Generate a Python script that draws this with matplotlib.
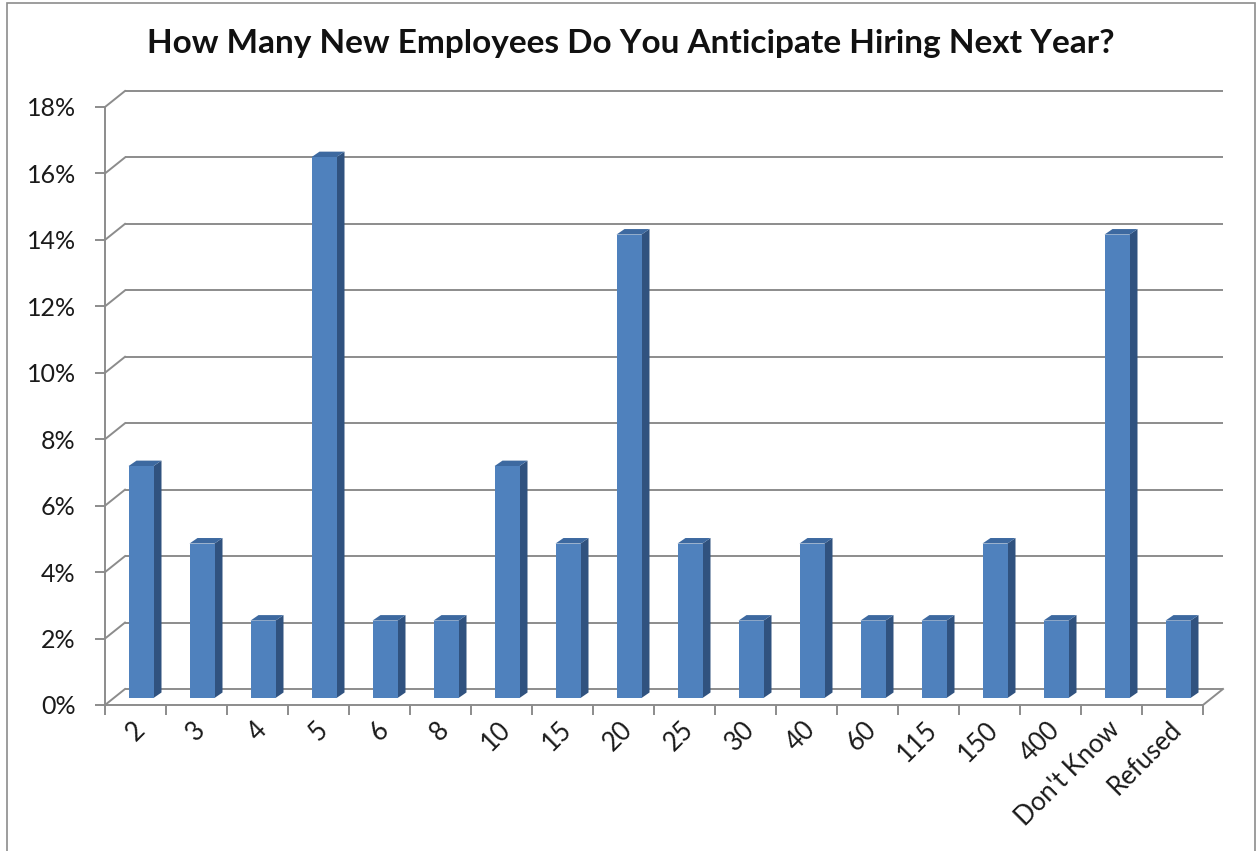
import numpy as np
import matplotlib
matplotlib.use("Agg")
import matplotlib.pyplot as plt
from matplotlib.patches import Polygon, Rectangle
from matplotlib.transforms import ScaledTranslation

categories = ["2", "3", "4", "5", "6", "8", "10", "15", "20", "25", "30",
              "40", "60", "115", "150", "400", "Don't Know", "Refused"]
shares = [6.98, 4.65, 2.33, 16.28, 2.33, 2.33, 6.98, 4.65, 13.95, 4.65,
          2.33, 4.65, 2.33, 2.33, 4.65, 2.33, 13.95, 2.33]
y_ticks = [0, 2, 4, 6, 8, 10, 12, 14, 16, 18]
y_tick_labels = [f"{v}%" for v in y_ticks]
title = "How Many New Employees Do You Anticipate Hiring Next Year?"

FRONT = "#4F81BD"
SIDE = "#30527F"
TOP = "#3D69A0"
GRID = "#8C8C8C"
FONT = "Lato"

W, H = 1257, 851
fig = plt.figure(figsize=(W / 100, H / 100), dpi=100)
fig.patch.set_facecolor("white")

# front plane of the plot, in pixels from the top-left corner
L, R, B, T = 105, 1203, 705, 107
ax = fig.add_axes([L / W, 1 - B / H, (R - L) / W, (B - T) / H])
n = len(categories)
ymax = y_ticks[-1]
ax.set_xlim(0, n)
ax.set_ylim(0, ymax)
ax.set_facecolor("none")
for s in ax.spines.values():
    s.set_visible(False)

sx = n / (R - L)
sy = ymax / (B - T)


def off(px, py):
    return px * sx, py * sy


wall_dx, wall_dy = off(20, 16)      # back wall depth
front_dx, front_dy = off(5.5, 7)    # bar front face placement
depth_dx, depth_dy = off(8, 5.5)    # bar thickness
bar_w = 25 * sx

# back wall gridlines and their links to the front axis
for v in y_ticks:
    ax.plot([wall_dx, n + wall_dx], [v + wall_dy] * 2, color=GRID, lw=1.4,
            clip_on=False, zorder=1, solid_capstyle="butt")
    ax.plot([0, wall_dx], [v, v + wall_dy], color=GRID, lw=1.4,
            clip_on=False, zorder=1)
ax.plot([0, 0], [0, ymax], color=GRID, lw=1.4, clip_on=False, zorder=1)
ax.plot([0, n], [0, 0], color=GRID, lw=1.4, clip_on=False, zorder=1)
ax.plot([n, n + wall_dx], [0, wall_dy], color=GRID, lw=1.4,
        clip_on=False, zorder=1)

# columns
x = np.arange(n) + 0.5
bars = ax.bar(x + front_dx, shares, width=bar_w, bottom=front_dy,
              color=FRONT, edgecolor="none", zorder=3)
for rect in bars:
    xl = rect.get_x()
    xr = xl + rect.get_width()
    b = rect.get_y()
    t = b + rect.get_height()
    side = Polygon([(xr, b), (xr, t), (xr + depth_dx, t + depth_dy),
                    (xr + depth_dx, b + depth_dy)], closed=True,
                   facecolor=SIDE, edgecolor="none", zorder=2.9)
    top = Polygon([(xl, t), (xr, t), (xr + depth_dx, t + depth_dy),
                   (xl + depth_dx, t + depth_dy)], closed=True,
                  facecolor=TOP, edgecolor="none", zorder=2.9)
    ax.add_patch(side)
    ax.add_patch(top)

# axes ticks and labels
ax.set_yticks(y_ticks)
ax.set_yticklabels(y_tick_labels, fontsize=18, family=FONT, color="#1a1a1a")
ax.tick_params(axis="y", length=7, width=1.4, color=GRID, pad=14)

ax.set_xticks(x)
ax.set_xticklabels(categories, fontsize=18.5, family=FONT, color="#1a1a1a",
                   rotation=45, ha="right", va="center",
                   rotation_mode="anchor")
ax.tick_params(axis="x", which="major", length=0, pad=15)
shift = ScaledTranslation(5 / 100, 0, fig.dpi_scale_trans)
for lab in ax.get_xticklabels():
    lab.set_transform(lab.get_transform() + shift)
ax.set_xticks(np.arange(n + 1), minor=True)
ax.tick_params(axis="x", which="minor", length=7, width=1.4, color=GRID)

fig.text(631 / W, 1 - 43 / H, title, ha="center", va="center",
         fontsize=24, fontweight="bold", family=FONT, color="#111111")

fig.patches.append(Rectangle((7 / W, -0.05), (1255 - 7) / W, 1.05 - 3 / H,
                             transform=fig.transFigure, fill=False,
                             edgecolor="#8C8C8C", lw=1.2))

fig.savefig("out.png", dpi=100, facecolor="white")
